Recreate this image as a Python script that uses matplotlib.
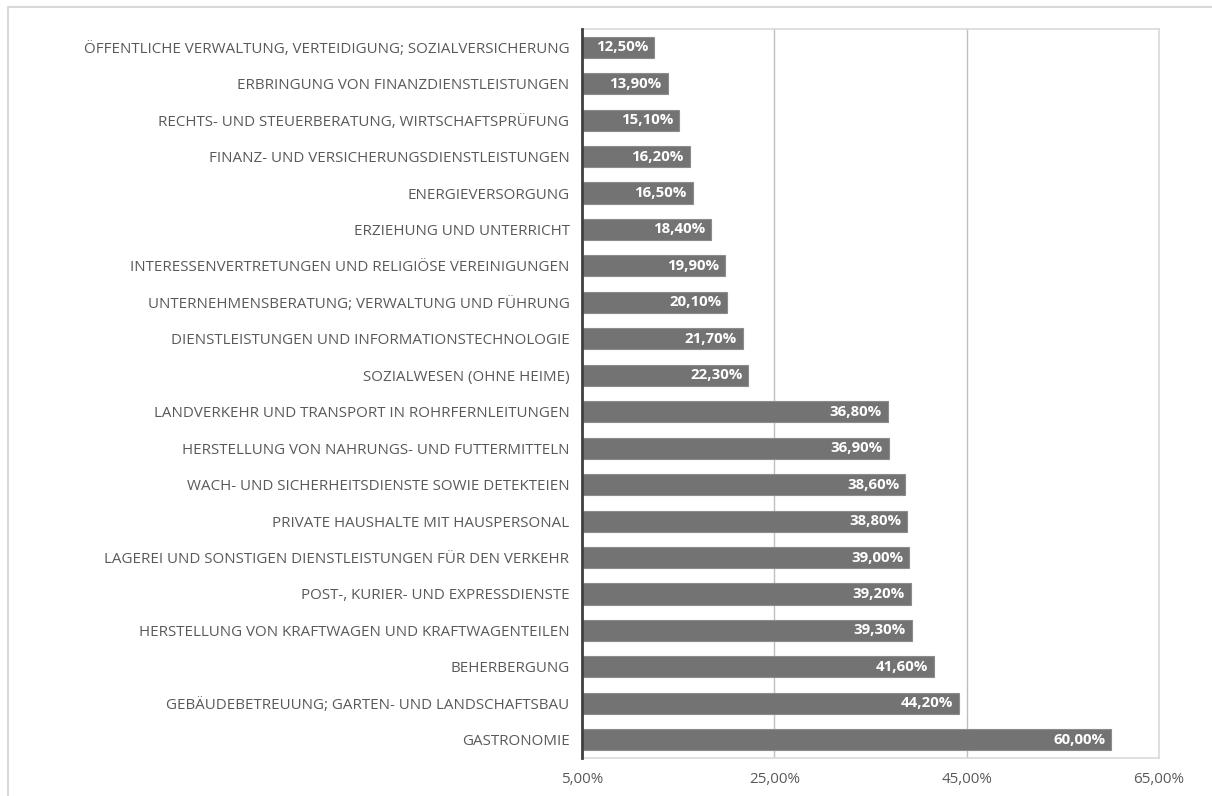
import matplotlib.pyplot as plt
from matplotlib.patches import Rectangle
from matplotlib.ticker import FuncFormatter

branchen = [
    "ÖFFENTLICHE VERWALTUNG, VERTEIDIGUNG; SOZIALVERSICHERUNG",
    "ERBRINGUNG VON FINANZDIENSTLEISTUNGEN",
    "RECHTS- UND STEUERBERATUNG, WIRTSCHAFTSPRÜFUNG",
    "FINANZ- UND VERSICHERUNGSDIENSTLEISTUNGEN",
    "ENERGIEVERSORGUNG",
    "ERZIEHUNG UND UNTERRICHT",
    "INTERESSENVERTRETUNGEN UND RELIGIÖSE VEREINIGUNGEN",
    "UNTERNEHMENSBERATUNG; VERWALTUNG UND FÜHRUNG",
    "DIENSTLEISTUNGEN UND INFORMATIONSTECHNOLOGIE",
    "SOZIALWESEN (OHNE HEIME)",
    "LANDVERKEHR UND TRANSPORT IN ROHRFERNLEITUNGEN",
    "HERSTELLUNG VON NAHRUNGS- UND FUTTERMITTELN",
    "WACH- UND SICHERHEITSDIENSTE SOWIE DETEKTEIEN",
    "PRIVATE HAUSHALTE MIT HAUSPERSONAL",
    "LAGEREI UND SONSTIGEN DIENSTLEISTUNGEN FÜR DEN VERKEHR",
    "POST-, KURIER- UND EXPRESSDIENSTE",
    "HERSTELLUNG VON KRAFTWAGEN UND KRAFTWAGENTEILEN",
    "BEHERBERGUNG",
    "GEBÄUDEBETREUUNG; GARTEN- UND LANDSCHAFTSBAU",
    "GASTRONOMIE",
]
anteile = [12.5, 13.9, 15.1, 16.2, 16.5, 18.4, 19.9, 20.1, 21.7, 22.3,
           36.8, 36.9, 38.6, 38.8, 39.0, 39.2, 39.3, 41.6, 44.2, 60.0]
x_ticks = [5, 25, 45, 65]


def prozent(v, pos=None):
    return f"{v:.2f}%".replace(".", ",")


plt.rcParams["font.family"] = ["Open Sans", "DejaVu Sans"]

fig = plt.figure(figsize=(12.12, 7.96), dpi=100)
# heller Rahmen um die ganze Grafik
fig.patches.append(Rectangle((8 / 1212, -0.1), 1.2, 1.1 - 7 / 796,
                             transform=fig.transFigure, fill=False,
                             edgecolor="#d9d9d9", linewidth=1.5))

ax = fig.add_axes([582 / 1212, 38 / 796, 577 / 1212, 729 / 796])

n = len(branchen)
pos = [n - 1 - i for i in range(n)]
ax.barh(pos, anteile, height=0.58, color="#737373", edgecolor="#8c8c8c",
        linewidth=0.8, zorder=3)

for y, v in zip(pos, anteile):
    ax.text(v - 0.6, y, prozent(v), ha="right", va="center", color="white",
            fontsize=10.8, fontweight="bold", zorder=4)

ax.set_xlim(5, 65)
ax.set_ylim(-0.5, n - 0.5)
ax.set_xticks(x_ticks)
ax.xaxis.set_major_formatter(FuncFormatter(prozent))
ax.set_yticks(pos)
ax.set_yticklabels(branchen)
ax.tick_params(axis="both", length=0, colors="#595959", labelsize=10.9)
ax.tick_params(axis="y", pad=9)
ax.tick_params(axis="x", pad=10)

ax.grid(axis="x", color="#bfbfbf", linewidth=1, zorder=0)
for side in ["top", "right", "bottom"]:
    ax.spines[side].set_color("#d9d9d9")
    ax.spines[side].set_linewidth(1.2)
ax.spines["left"].set_color("#404040")
ax.spines["left"].set_linewidth(2)
ax.spines["left"].set_zorder(5)

fig.savefig("out.png", dpi=100)
